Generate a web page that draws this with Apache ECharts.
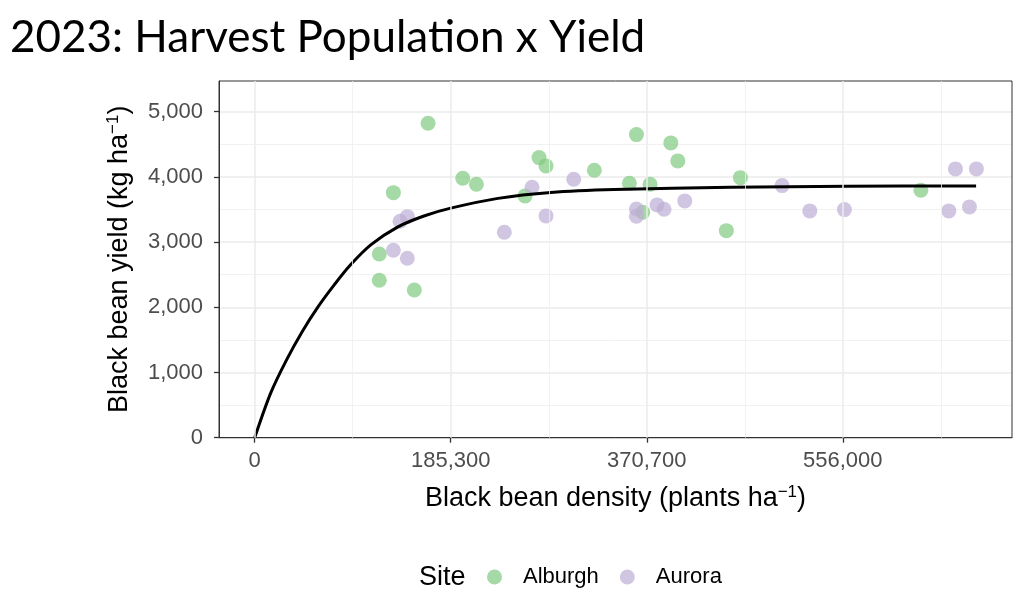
<!DOCTYPE html>
<html>
<head>
<meta charset="utf-8">
<script src="https://cdn.jsdelivr.net/npm/echarts@6/dist/echarts.min.js"></script>
<style>
html,body{margin:0;padding:0;background:#fff;}
#chart{width:1024px;height:598px;}
</style>
</head>
<body>
<div id="chart"></div>
<script>
// ---- data ----
const titleText = '2023: Harvest Population x Yield';
const seriesNames = ['Alburgh', 'Aurora'];

const alburghX = [163900, 131100, 117800, 117800, 150900, 196700, 209600, 268800, 275400, 255600,
                  321100, 360900, 393400, 400000, 354200, 373800, 366900, 459200, 445900, 629800];
const alburghY = [4823, 3758, 2818, 2414, 2266, 3979, 3887, 4295, 4168, 3708,
                  4102, 4648, 4521, 4245, 3902, 3887, 3458, 3988, 3175, 3795];

const auroraX = [137400, 144300, 131100, 144300, 236000, 262200, 275400, 301600, 360900, 360900,
                 380400, 387000, 406600, 498600, 524800, 557500, 656200, 675700, 662500, 682300];
const auroraY = [3320, 3390, 2875, 2752, 3151, 3841, 3401, 3964, 3508, 3396,
                 3570, 3503, 3631, 3866, 3478, 3498, 3478, 3539, 4122, 4122];

// fitted curve, points
const curveX = [0, 15000, 30000, 45000, 60000, 75000, 90000, 110000, 135000, 160000,
                185300, 230000, 280000, 340000, 450000, 560000, 682000];
const curveY = [0, 680, 1190, 1630, 2010, 2340, 2640, 2960, 3230, 3400,
                3520, 3670, 3760, 3805, 3840, 3856, 3861];

const xTickValues = [0, 185300, 370700, 556000];
const xTickLabels = ['0', '185,300', '370,700', '556,000'];
const xMinorGrid = [92650, 278000, 463350, 648650];
const yTickValues = [0, 1000, 2000, 3000, 4000, 5000];
const yTickLabels = ['0', '1,000', '2,000', '3,000', '4,000', '5,000'];

// ---- chart ----
const pair = (xs, ys) => xs.map((x, i) => [x, ys[i]]);
const chart = echarts.init(document.getElementById('chart'), null, {renderer: 'canvas'});

const vLines = xTickValues.map(v => ({xAxis: v, lineStyle: {color: '#EBEBEB', width: 1.5, type: 'solid'}}))
  .concat(xMinorGrid.map(v => ({xAxis: v, lineStyle: {color: '#EFEFEF', width: 0.8, type: 'solid'}})));

const richName = {
  n: {fontFamily: 'Liberation Sans', fontSize: 27, color: '#000', lineHeight: 30},
  s: {fontFamily: 'Liberation Sans', fontSize: 17, color: '#000', verticalAlign: 'top', lineHeight: 17}
};

const option = {
  backgroundColor: '#ffffff',
  animation: false,
  grid: {left: 219, top: 81, right: 12, bottom: 160.3, show: true, borderColor: '#333333', borderWidth: 1, backgroundColor: 'transparent', z: 5},
  graphic: [
    {type: 'text', left: 10, top: 16, z: 10,
     style: {text: titleText, font: '44px Lato', fill: '#000'}},
    {type: 'text', left: 419, top: 564, z: 10,
     style: {text: 'Site', font: '27px "Liberation Sans"', fill: '#000'}}
  ],
  legend: {
    data: seriesNames,
    left: 487, top: 566, padding: 0,
    icon: 'circle', itemWidth: 15, itemHeight: 15, itemGap: 21,
    textStyle: {fontFamily: 'Liberation Sans', fontSize: 22, color: '#000', padding: [0, 0, 0, 16]}
  },
  xAxis: {
    type: 'value',
    min: -33750, max: 715950,
    name: '{n|Black bean density (plants ha}{s|−1}{n|)}',
    nameLocation: 'middle', nameGap: 46,
    nameTextStyle: {rich: richName},
    axisLine: {show: true, onZero: false, lineStyle: {color: '#333333', width: 1}},
    axisTick: {show: true, customValues: xTickValues, length: 5, lineStyle: {color: '#333333', width: 1.3}},
    axisLabel: {show: true, customValues: xTickValues, margin: 12,
      formatter: v => { const i = xTickValues.indexOf(v); return i >= 0 ? xTickLabels[i] : ''; },
      fontFamily: 'Liberation Sans', fontSize: 22, color: '#4D4D4D'},
    splitLine: {show: false}
  },
  yAxis: {
    type: 'value',
    min: 0, max: 5470, interval: 1000,
    name: '{n|Black bean yield (kg ha}{s|−1}{n|)}',
    nameLocation: 'middle', nameGap: 84,
    nameTextStyle: {rich: richName},
    axisLine: {show: true, onZero: false, lineStyle: {color: '#333333', width: 1}},
    axisTick: {show: true, customValues: yTickValues, length: 5, lineStyle: {color: '#333333', width: 1.3}},
    axisLabel: {customValues: yTickValues, margin: 16, fontFamily: 'Liberation Sans', fontSize: 22, color: '#4D4D4D',
      formatter: v => { const i = yTickValues.indexOf(v); return i >= 0 ? yTickLabels[i] : ''; }},
    splitLine: {show: true, lineStyle: {color: '#EBEBEB', width: 1.5}},
    minorTick: {show: false, splitNumber: 2},
    minorSplitLine: {show: true, lineStyle: {color: '#EFEFEF', width: 0.8}}
  },
  series: [
    {type: 'line', name: '_grid', data: [], silent: true, z: 1,
     markLine: {silent: true, symbol: 'none', label: {show: false}, animation: false, data: vLines}},
    {type: 'scatter', name: seriesNames[0], data: pair(alburghX, alburghY), symbolSize: 15, z: 3,
     itemStyle: {color: '#7FC97F', opacity: 0.7}},
    {type: 'scatter', name: seriesNames[1], data: pair(auroraX, auroraY), symbolSize: 15, z: 3,
     itemStyle: {color: '#BEAED4', opacity: 0.7}},
    {type: 'line', name: 'fit', data: pair(curveX, curveY), showSymbol: false, symbol: 'none', z: 4,
     smooth: 0.3, lineStyle: {color: '#000', width: 3}}
  ]
};
chart.setOption(option);
</script>
</body>
</html>
